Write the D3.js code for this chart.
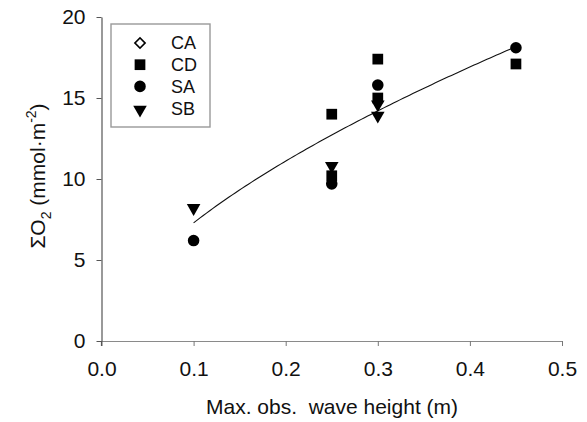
<!DOCTYPE html>
<html>
<head>
<meta charset="utf-8">
<script src="https://cdn.jsdelivr.net/npm/d3@7"></script>
<style>
  html, body { margin: 0; padding: 0; background: #fff; }
  svg { display: block; font-family: "Liberation Sans", Arial, sans-serif; }
</style>
</head>
<body>
<svg id="chart" width="587" height="422"></svg>
<script>
// Sites and their oxygen sums vs. maximum observed wave height
const siteNames = ["CA", "CD", "SA", "SB"];
const caPoints = [];
const cdPoints = [[0.25, 14.0], [0.25, 10.2], [0.3, 17.4], [0.3, 15.0], [0.45, 17.1]];
const saPoints = [[0.1, 6.2], [0.25, 9.7], [0.3, 15.8], [0.45, 18.1]];
const sbPoints = [[0.1, 8.3], [0.25, 10.9], [0.3, 14.7], [0.3, 14.0]];

// Power-law fit  y = a * x^b, drawn across the observed range
const fitA = 29.5;
const fitB = 0.607;
const fitRange = [0.1, 0.45];

const xTicks = [0.0, 0.1, 0.2, 0.3, 0.4, 0.5];
const yTicks = [0, 5, 10, 15, 20];

const svg = d3.select("#chart");
const plotLeft = 101.5, plotRight = 562, plotTop = 17, plotBottom = 341;

const x = d3.scaleLinear().domain([0, 0.5]).range([plotLeft, plotRight]);
const y = d3.scaleLinear().domain([0, 20]).range([plotBottom, plotTop]);

// Axes
const xAxis = svg.append("g")
  .attr("transform", `translate(0,${plotBottom})`)
  .call(d3.axisBottom(x).tickValues(xTicks).tickFormat(d3.format(".1f")).tickSizeInner(5).tickSizeOuter(0).tickPadding(15));
xAxis.select(".domain").attr("stroke", "#8a8a8a").attr("stroke-width", 1.2);
xAxis.selectAll(".tick line").attr("stroke", "#777");
xAxis.selectAll(".tick text").attr("font-size", 21).attr("fill", "#111");

const yAxis = svg.append("g")
  .attr("transform", `translate(${plotLeft},0)`)
  .call(d3.axisLeft(y).tickValues(yTicks).tickSizeInner(5).tickSizeOuter(0).tickPadding(11));
yAxis.select(".domain").attr("stroke", "#555").attr("stroke-width", 1.2);
yAxis.selectAll(".tick line").attr("stroke", "#555");
yAxis.selectAll(".tick text").attr("font-size", 21).attr("fill", "#111");
// y axis line runs down past the x axis to the tick length
yAxis.append("line").attr("x1", 0).attr("x2", 0).attr("y1", plotBottom).attr("y2", plotBottom + 5)
  .attr("stroke", "#555").attr("stroke-width", 1.2);

// Axis titles
svg.append("text")
  .attr("x", 332).attr("y", 414)
  .attr("text-anchor", "middle").attr("font-size", 21).attr("fill", "#111")
  .attr("xml:space", "preserve")
  .text("Max. obs.  wave height (m)");

const yTitle = svg.append("text")
  .attr("transform", `translate(45,176) rotate(-90)`)
  .attr("text-anchor", "middle").attr("font-size", 21).attr("fill", "#111");
yTitle.append("tspan").text("ΣO");
yTitle.append("tspan").attr("font-size", 14).attr("dy", 6).text("2");
yTitle.append("tspan").attr("dy", -6).text(" (mmol·m");
yTitle.append("tspan").attr("font-size", 14).attr("dy", -9).text("-2");
yTitle.append("tspan").attr("dy", 9).text(")");

// Fit curve
const fitData = d3.range(0, 101).map(i => {
  const xv = fitRange[0] + (fitRange[1] - fitRange[0]) * i / 100;
  return [xv, fitA * Math.pow(xv, fitB)];
});
svg.append("path")
  .datum(fitData)
  .attr("fill", "none").attr("stroke", "#111").attr("stroke-width", 1.1)
  .attr("d", d3.line().x(d => x(d[0])).y(d => y(d[1])));

// Marker shapes (the open diamond is a square turned 45°)
const shapes = {
  CA: { type: d3.symbolSquare, size: 52, fill: "#fff", stroke: "#000", rotate: 45 },
  CD: { type: d3.symbolSquare, size: 115, fill: "#000", stroke: "none" },
  SA: { type: d3.symbolCircle, size: 105, fill: "#000", stroke: "none" },
  SB: { type: d3.symbolTriangle, size: 80, fill: "#000", stroke: "none", rotate: 180, shift: -1.5 }
};
const seriesData = { CA: caPoints, CD: cdPoints, SA: saPoints, SB: sbPoints };

function drawMarker(g, name, cx, cy) {
  const s = shapes[name];
  let tf = `translate(${cx},${cy})`;
  if (s.rotate) tf += ` rotate(${s.rotate})`;
  if (s.shift) tf += ` translate(0,${s.shift})`;
  g.append("path")
    .attr("d", d3.symbol().type(s.type).size(s.size)())
    .attr("transform", tf)
    .attr("fill", s.fill).attr("stroke", s.stroke).attr("stroke-width", 1.6);
}

const marks = svg.append("g");
siteNames.forEach(name => {
  seriesData[name].forEach(p => drawMarker(marks, name, x(p[0]), y(p[1])));
});

// Legend
const legend = svg.append("g");
legend.append("rect")
  .attr("x", 111).attr("y", 24).attr("width", 99).attr("height", 103)
  .attr("fill", "#fff").attr("stroke", "#999").attr("stroke-width", 1.4);
siteNames.forEach((name, i) => {
  const cy = 43 + i * 21.7;
  drawMarker(legend, name, 140, cy);
  legend.append("text")
    .attr("x", 171).attr("y", cy).attr("dy", "0.36em")
    .attr("font-size", 18).attr("fill", "#111")
    .text(name);
});
</script>
</body>
</html>
